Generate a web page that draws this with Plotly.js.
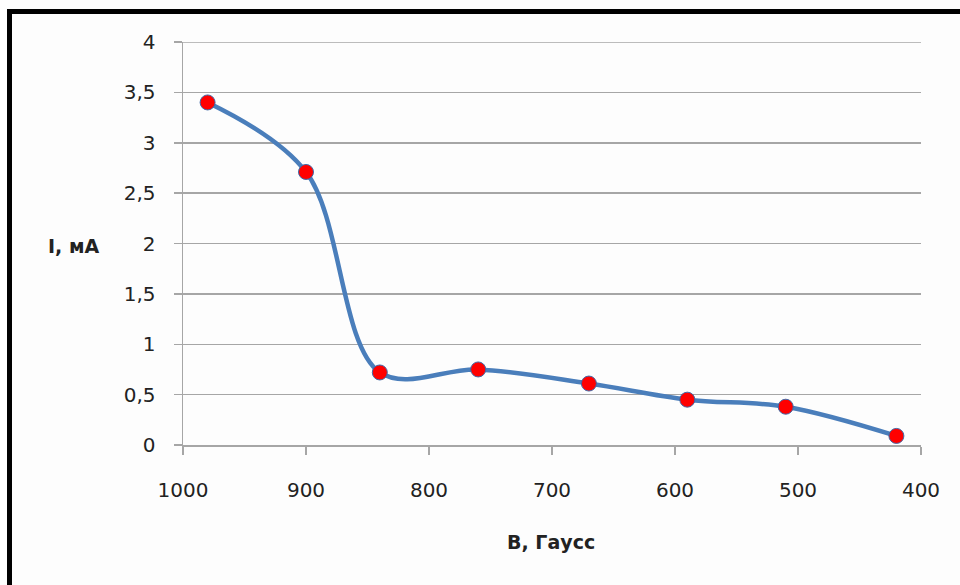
<!DOCTYPE html>
<html>
<head>
<meta charset="utf-8">
<script src="https://cdn.plot.ly/plotly-3.0.1.min.js"></script>
<style>
html,body{margin:0;padding:0;background:#fff;}
#chart{width:960px;height:585px;}
</style>
</head>
<body>
<div id="chart"></div>
<script>
const fieldB = [980, 900, 840, 760, 670, 590, 510, 420];
const currentI = [3.40, 2.71, 0.72, 0.75, 0.61, 0.45, 0.38, 0.09];
const yTicks = [0, 0.5, 1, 1.5, 2, 2.5, 3, 3.5, 4];
const yTickText = ["0", "0,5", "1", "1,5", "2", "2,5", "3", "3,5", "4"];
const xTicks = [1000, 900, 800, 700, 600, 500, 400];
const xTitle = "B, Гаусс";
const yTitle = "I, мА";

const W = 960, H = 585;
const L = 183, R = 921, T = 42, B = 445;
const pw = R - L, ph = B - T;
const yMax = yTicks[yTicks.length - 1];

const trace = {
  x: fieldB, y: currentI,
  type: 'scatter', mode: 'lines+markers',
  line: {color: '#4A7EBB', width: 4.5, shape: 'spline', smoothing: 1},
  marker: {color: '#FF0000', size: 15, line: {color: '#3F6AA8', width: 1}},
  hoverinfo: 'x+y'
};

const font = {family: 'DejaVu Sans, Arial, sans-serif', size: 20, color: '#222'};
const titleFont = {family: 'DejaVu Sans, Arial, sans-serif', size: 19, color: '#222'};

const layout = {
  width: W, height: H,
  margin: {l: L, r: W - R, t: T, b: H - B, pad: 0},
  paper_bgcolor: '#fdfdfd', plot_bgcolor: '#fdfdfd',
  showlegend: false,
  font: font,
  xaxis: {
    range: [1000, 400], autorange: false,
    tickvals: xTicks, ticktext: xTicks.map(String),
    showgrid: false, zeroline: false,
    showline: true, linecolor: '#A6A6A6', linewidth: 1.5,
    ticks: 'outside', ticklen: 8, tickcolor: '#A6A6A6', tickwidth: 1.5,
    ticklabelstandoff: 18,
    tickfont: font
  },
  yaxis: {
    range: [0, yMax], autorange: false,
    tickvals: yTicks, ticktext: yTickText,
    showgrid: true, gridcolor: '#A6A6A6', gridwidth: 1.5,
    zeroline: false,
    showline: true, linecolor: '#A6A6A6', linewidth: 1.5,
    ticks: 'outside', ticklen: 8, tickcolor: '#A6A6A6', tickwidth: 1.5,
    ticklabelstandoff: 14,
    tickfont: font
  },
  shapes: [{
    type: 'rect', xref: 'paper', yref: 'paper',
    x0: (9.5 - L) / pw, x1: (975 - L) / pw,
    y0: (B - 600) / ph, y1: (B - 11.5) / ph,
    line: {color: '#000', width: 5}, fillcolor: 'rgba(0,0,0,0)', layer: 'below'
  }, {
    type: 'line', xref: 'paper', yref: 'y',
    x0: 0, x1: 1, y0: yMax, y1: yMax,
    line: {color: '#A6A6A6', width: 1.5}, layer: 'below'
  }],
  annotations: [
    {text: '<b>' + yTitle + '</b>', xref: 'paper', yref: 'paper',
     x: (73 - L) / pw, y: (B - 246) / ph, xanchor: 'center', yanchor: 'middle',
     showarrow: false, font: titleFont},
    {text: '<b>' + xTitle + '</b>', xref: 'paper', yref: 'paper',
     x: (551 - L) / pw, y: (B - 542) / ph, xanchor: 'center', yanchor: 'middle',
     showarrow: false, font: titleFont}
  ]
};

Plotly.newPlot('chart', [trace], layout, {displayModeBar: false, staticPlot: true});
</script>
</body>
</html>
